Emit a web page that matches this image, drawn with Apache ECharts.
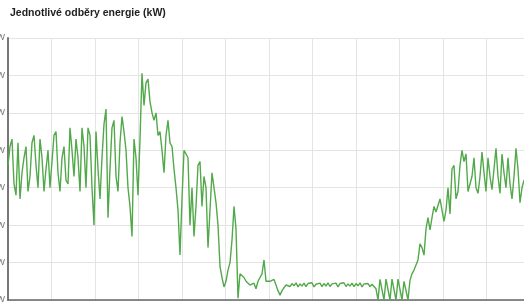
<!DOCTYPE html>
<html>
<head>
<meta charset="utf-8">
<script src="https://cdn.jsdelivr.net/npm/echarts@6/dist/echarts.min.js"></script>
<style>
  html, body { margin: 0; padding: 0; background: #fff; }
  #chart { width: 524px; height: 302px; }
</style>
</head>
<body>
<div id="chart"></div>
<script>
// odběry (kW), jeden vzorek na krok osy
var segA = [36, 41, 43, 31, 28, 42, 27, 34, 38, 41, 29, 33, 42, 44, 36, 30, 43, 38, 29, 35,
            40, 30, 37, 44, 45, 34, 29, 38, 41, 32, 31, 46, 40, 33, 43, 38, 29, 46, 41, 30,
            46, 44, 30, 20, 45];
var segB = [35, 27, 38, 47, 51, 22, 35, 46, 48, 33, 29, 42, 49, 45, 40, 30, 25, 17, 43, 38, 28, 43];
var segC = [60.6, 52, 58, 59, 53, 50, 48, 50, 44, 45, 40, 34, 44, 48, 42, 41, 35, 30, 24, 12];
var segD = [27, 40, 40.5, 38, 20, 30, 17, 25, 36, 37, 25, 33, 30, 14, 24, 34, 34, 26, 20, 9,
            6, 3.5, 5, 8, 10, 16, 25, 19, 0.5, 7, 7, 6, 5, 5.5, 4, 3.5, 4.5, 3, 5, 5,
            7, 10.7, 5];
var segE = [5.5, 5, 4.5, 5.5, 4, 2.5, 1.3, 2.5, 3, 4,
            4.5, 3.6, 4.4, 3.8, 4.6, 3.5, 4.3, 3.7, 4.5, 3.6, 4.4, 3.9, 4.6, 3.5, 4.2, 3.8,
            4.5, 3.6, 4.4, 3.7, 4.6, 3.6, 4.3, 3.8, 4.5, 3.5, 4.4, 3.9, 4.6, 3.6, 4.3, 3.7,
            4.5, 3.6, 4.4, 3.8, 4.6, 3.5, 4.3, 3.8, 4.4, 3.6, 4.2, 3.9];
var segF = [3, 0, 5.5, 5.3, 0, 5.6, 5.5, 0, 5.6, 5.5, 0, 5.6, 5.5, 0, 5, 5.3, 0, 5.3, 7, 8,
            8.5, 10.7, 15, 14, 12, 19, 22, 18.7, 22, 25, 23.5, 24, 27, 24, 21, 24, 30, 23, 35, 36,
            27, 29, 36, 40, 37, 39, 29, 28.5, 33, 38, 30, 28.5, 33, 39.5, 34, 29, 38, 33, 29.5, 35,
            40.5, 33, 28.5, 39, 34, 30, 38, 31, 27, 33, 40.5, 35, 26, 30, 32];

var yTicks = [0, 10, 20, 30, 40, 50, 60, 70];

var values = segA.concat(segB, segC, segD, segE, segF);
var points = values.map(function (v, i) { return [i, v]; });

var chart = echarts.init(document.getElementById('chart'), null, { renderer: 'canvas' });
var option = {
  animation: false,
  backgroundColor: '#ffffff',
  title: {
    text: 'Jednotlivé odběry energie (kW)',
    left: 5,
    top: 3,
    textStyle: {
      fontFamily: 'Liberation Sans, Arial, sans-serif',
      fontSize: 10.5,
      fontWeight: 'bold',
      color: '#222'
    }
  },
  grid: {
    left: 8,
    right: -6,
    top: 38,
    bottom: 2,
    containLabel: false,
    outerBoundsMode: 'none'
  },
  xAxis: {
    type: 'value',
    min: 0,
    max: 261,
    interval: 21.75,
    axisLine: { show: true, onZero: false, lineStyle: { color: '#666', width: 1.5 } },
    axisTick: { show: false },
    axisLabel: { show: false },
    splitLine: { show: true, lineStyle: { color: '#e4e4e4', width: 1 } }
  },
  yAxis: {
    type: 'value',
    min: yTicks[0],
    max: yTicks[yTicks.length - 1],
    interval: 10,
    axisLine: { show: true, lineStyle: { color: '#777', width: 2 } },
    axisTick: { show: false },
    axisLabel: {
      margin: 3,
      fontSize: 9,
      color: '#777',
      fontFamily: 'Liberation Sans, Arial, sans-serif',
      formatter: function (v) { return v + ' kW'; }
    },
    splitLine: { show: true, lineStyle: { color: '#e4e4e4', width: 1 } }
  },
  series: [{
    name: 'Odběr',
    type: 'line',
    data: points,
    showSymbol: false,
    lineStyle: { color: '#52a94a', width: 1.4 },
    itemStyle: { color: '#52a94a' }
  }]
};
chart.setOption(option);
</script>
</body>
</html>
